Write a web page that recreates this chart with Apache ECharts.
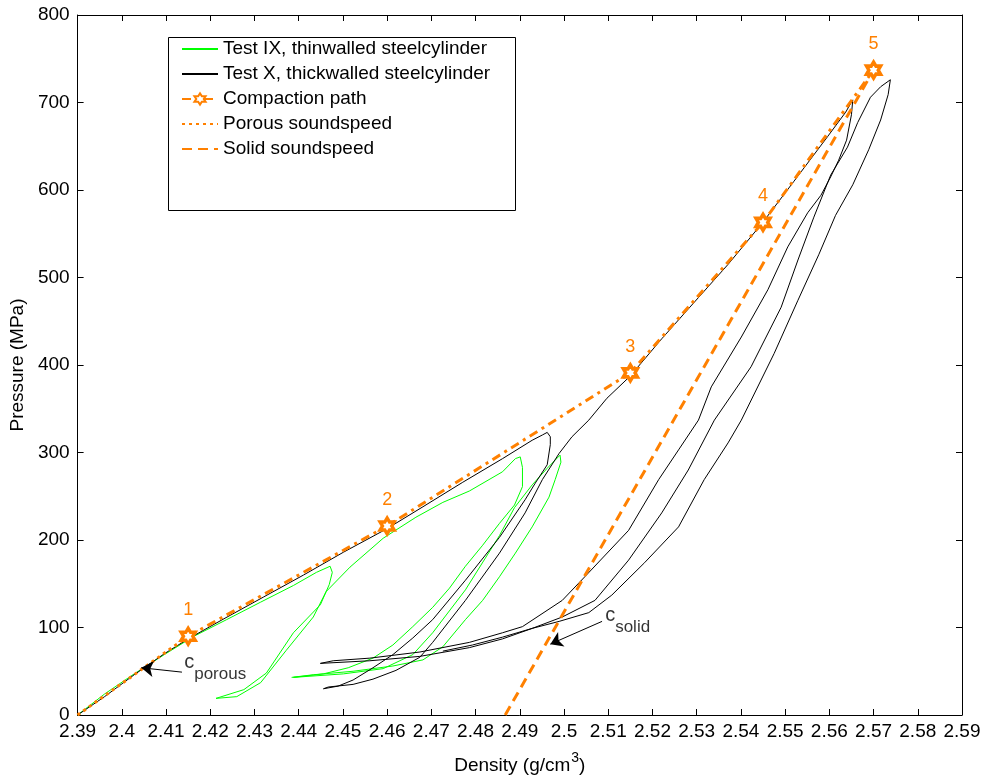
<!DOCTYPE html>
<html>
<head>
<meta charset="utf-8">
<script src="https://cdn.jsdelivr.net/npm/echarts@6/dist/echarts.min.js"></script>
<style>
  html, body { margin: 0; padding: 0; background: #fff; }
  #chart { width: 984px; height: 781px; }
</style>
</head>
<body>
<div id="chart"></div>
<script>
// Test IX (thin walled cylinder), three load/unload cycles
const testIXLoad1 = [[2.3900, 0], [2.3961, 24], [2.4028, 47], [2.4096, 69], [2.4163, 90], [2.4237, 109], [2.4314, 129], [2.4388, 148], [2.4440, 163], [2.4471, 170]]
const testIXUnload1 = [[2.4476, 163], [2.4469, 149], [2.4449, 126], [2.4388, 94], [2.4327, 48], [2.4276, 29], [2.4213, 19]]
const testIXLoad2 = [[2.4260, 21], [2.4314, 37], [2.4372, 74], [2.4433, 112], [2.4462, 141], [2.4516, 169], [2.4591, 202], [2.4665, 226], [2.4726, 243], [2.4786, 256], [2.4861, 278], [2.4890, 293], [2.4901, 295]]
const testIXUnload2 = [[2.4906, 283], [2.4906, 261], [2.4888, 240], [2.4854, 219], [2.4816, 194], [2.4777, 170], [2.4741, 145], [2.4703, 123], [2.4658, 101], [2.4613, 80], [2.4568, 65], [2.4512, 54], [2.4456, 47], [2.4388, 43]]
const testIXLoad3 = [[2.4501, 47], [2.4591, 53], [2.4658, 69], [2.4703, 94], [2.4777, 143], [2.4854, 205], [2.4888, 237], [2.4928, 263], [2.4962, 282], [2.4991, 297]]
const testIXUnload3 = [[2.4993, 289], [2.4980, 269], [2.4966, 249], [2.4928, 215], [2.4890, 185], [2.4854, 158], [2.4816, 131], [2.4777, 109], [2.4726, 78], [2.4681, 63], [2.4613, 56], [2.4523, 50], [2.4433, 46], [2.4384, 43]]

// Test X (thick walled cylinder)
const testXLoad1 = [[2.3900, 0], [2.3961, 21], [2.4028, 46], [2.4096, 70], [2.4150, 87], [2.4231, 110], [2.4321, 135], [2.4411, 160], [2.4501, 186], [2.4600, 213], [2.4681, 238], [2.4771, 266], [2.4861, 293], [2.4928, 314], [2.4951, 320], [2.4962, 323]]
const testXUnload1 = [[2.4969, 318], [2.4969, 309], [2.4962, 286], [2.4935, 265], [2.4912, 246], [2.4854, 203], [2.4777, 154], [2.4703, 109], [2.4658, 88], [2.4613, 69], [2.4568, 54], [2.4523, 40], [2.4489, 33], [2.4456, 30], [2.4467, 32]]
const testXLoad2 = [[2.4523, 35], [2.4568, 41], [2.4620, 51], [2.4674, 66], [2.4703, 83], [2.4777, 131], [2.4854, 185], [2.4912, 231], [2.4951, 269], [2.4989, 299], [2.5018, 318], [2.5056, 337], [2.5097, 362], [2.5149, 387], [2.5221, 430], [2.5295, 472], [2.5371, 515], [2.5448, 562], [2.5520, 610], [2.5596, 661], [2.5637, 689], [2.5653, 703]]
const testXUnload2 = [[2.5650, 686], [2.5639, 657], [2.5621, 634], [2.5603, 615], [2.5581, 594], [2.5551, 574], [2.5506, 535], [2.5461, 486], [2.5401, 432], [2.5333, 375], [2.5304, 337], [2.5259, 303], [2.5214, 269], [2.5146, 211], [2.5047, 158], [2.4996, 131], [2.4957, 118], [2.4906, 101], [2.4861, 94], [2.4786, 83], [2.4674, 72], [2.4561, 65], [2.4478, 62], [2.4449, 59]]
const testXLoad3 = [[2.4561, 62], [2.4674, 67], [2.4786, 77], [2.4861, 87], [2.4928, 99], [2.4996, 112], [2.5070, 131], [2.5146, 177], [2.5221, 231], [2.5281, 280], [2.5340, 337], [2.5423, 398], [2.5491, 466], [2.5529, 520], [2.5565, 569], [2.5603, 617], [2.5641, 649], [2.5664, 677], [2.5693, 706], [2.5716, 718], [2.5738, 726]]
const testXUnload3 = [[2.5733, 709], [2.5716, 680], [2.5689, 646], [2.5653, 606], [2.5614, 571], [2.5576, 526], [2.5529, 474], [2.5475, 413], [2.5401, 337], [2.5371, 311], [2.5317, 269], [2.5259, 215], [2.5182, 174], [2.5108, 137], [2.5056, 117], [2.4989, 107], [2.4928, 99], [2.4861, 89], [2.4793, 80], [2.4726, 73]]

// compaction path points 1..5
const compactionPoints = [[2.415, 90], [2.46, 216], [2.515, 391], [2.545, 563], [2.57, 737]]
const compactionLabels = ['1', '2', '3', '4', '5']
const porousLine = [[2.39, 0], [2.415, 90]]
const solidLine = [[2.4867, 0], [2.57, 737]]

// annotations: text anchor, arrow tail, arrow tip
const porousNote = { text: [2.4141, 54], tail: [2.4136, 49], tip: [2.4044, 54] }
const solidNote = { text: [2.5093, 108], tail: [2.5086, 107], tip: [2.4969, 81] }

const xTicks = { min: 2.39, max: 2.59, step: 0.01 }
const yTicks = { min: 0, max: 800, step: 100 }

const orange = '#ff8000'
const font = '"Liberation Sans", Arial, Helvetica, sans-serif'
const hexagram = 'path://M0,-10L2.89,-5L8.66,-5L5.77,0L8.66,5L2.89,5L0,10L-2.89,5L-8.66,5L-5.77,0L-8.66,-5L-2.89,-5Z'
const noFill = 'rgba(0,0,0,0)'

const chart = echarts.init(document.getElementById('chart'), null, { renderer: 'canvas' })

const tickStyle = { show: true, inside: true, length: 6, lineStyle: { color: '#000', width: 1 } }
const lineAxis = { show: true, onZero: false, lineStyle: { color: '#000', width: 1 } }

const baseX = {
  type: 'value',
  min: xTicks.min,
  max: xTicks.max,
  interval: xTicks.step,
  axisLine: lineAxis,
  axisTick: tickStyle,
  splitLine: { show: false }
}
const baseY = {
  type: 'value',
  min: yTicks.min,
  max: yTicks.max,
  interval: yTicks.step,
  axisLine: lineAxis,
  axisTick: tickStyle,
  splitLine: { show: false }
}

// plain line series, no marker in the legend either
const plainLine = (name, color, width, type, data, z) => ({
  name,
  type: 'line',
  showSymbol: false,
  symbol: 'none',
  lineStyle: { color, width, type },
  itemStyle: { color: noFill, borderColor: noFill },
  z,
  data
})

const option = {
  animation: false,
  backgroundColor: '#fff',
  textStyle: { fontFamily: font },
  grid: { left: 73, right: 22, top: 15, bottom: 66, containLabel: false },
  graphic: [
    {
      type: 'rect',
      z: 0,
      shape: { x: 168.5, y: 37.5, width: 347, height: 173 },
      style: { fill: '#fff', stroke: '#000', lineWidth: 1 }
    }
  ],
  legend: {
    data: ['Test IX, thinwalled steelcylinder', 'Test X, thickwalled steelcylinder', 'Compaction path', 'Porous soundspeed', 'Solid soundspeed'],
    orient: 'vertical',
    left: 176,
    top: 34,
    itemWidth: 36,
    itemHeight: 14,
    itemGap: 5,
    textStyle: { fontSize: 19, fontFamily: font, color: '#000', lineHeight: 20 }
  },
  xAxis: [
    {
      ...baseX,
      position: 'bottom',
      name: '{a|Density (g/cm}{sup|3}{a|)}',
      nameLocation: 'middle',
      nameGap: 36,
      nameTextStyle: {
        rich: {
          a: { fontSize: 19, fontFamily: font, color: '#000', lineHeight: 24, verticalAlign: 'bottom' },
          sup: { fontSize: 14, fontFamily: font, color: '#000', lineHeight: 24, verticalAlign: 'top', padding: [0, 0, 0, 1] }
        }
      },
      axisLabel: {
        margin: 7,
        fontSize: 19,
        fontFamily: font,
        color: '#000',
        formatter: v => String(parseFloat(v.toFixed(2)))
      }
    },
    { ...baseX, position: 'top', axisLabel: { show: false } }
  ],
  yAxis: [
    {
      ...baseY,
      position: 'left',
      name: 'Pressure (MPa)',
      nameLocation: 'middle',
      nameGap: 48,
      nameTextStyle: { fontSize: 19, fontFamily: font, color: '#000' },
      axisLabel: { margin: 8, fontSize: 19, fontFamily: font, color: '#000' }
    },
    { ...baseY, position: 'right', axisLabel: { show: false } }
  ],
  series: [
    plainLine('Test IX, thinwalled steelcylinder', '#00ff00', 1, 'solid',
      [].concat(testIXLoad1, testIXUnload1, testIXLoad2, testIXUnload2, testIXLoad3, testIXUnload3), 2),
    plainLine('Test X, thickwalled steelcylinder', '#000', 1, 'solid',
      [].concat(testXLoad1, testXUnload1, testXLoad2, testXUnload2, testXLoad3, testXUnload3), 2),
    {
      name: 'Compaction path',
      type: 'line',
      symbol: hexagram,
      symbolSize: [14, 16],
      lineStyle: { color: orange, width: 3, type: [9, 5, 3, 5] },
      itemStyle: { color: '#fff', borderColor: orange, borderWidth: 3.5 },
      label: {
        show: true,
        position: 'top',
        distance: 7,
        fontSize: 18,
        fontFamily: font,
        color: orange,
        formatter: p => compactionLabels[p.dataIndex]
      },
      z: 5,
      data: compactionPoints
    },
    plainLine('Porous soundspeed', orange, 3, [3, 4], porousLine, 4),
    plainLine('Solid soundspeed', orange, 3, [10, 6], solidLine, 4),
    {
      name: 'notes',
      type: 'scatter',
      symbolSize: 0,
      silent: true,
      label: {
        show: true,
        position: 'right',
        distance: 0,
        formatter: p => p.data.txt,
        rich: {
          c: { fontSize: 20, fontFamily: font, color: '#000', lineHeight: 30, verticalAlign: 'top' },
          s: { fontSize: 17, fontFamily: font, color: '#000', lineHeight: 20, verticalAlign: 'bottom' }
        }
      },
      data: [
        { value: porousNote.text, txt: '{c|c}{s|porous}' },
        { value: solidNote.text, txt: '{c|c}{s|solid}' }
      ],
      markLine: {
        silent: true,
        symbol: ['none', 'arrow'],
        symbolSize: 12,
        label: { show: false },
        lineStyle: { color: '#000', width: 1, type: 'solid' },
        itemStyle: { color: '#000' },
        data: [
          [{ coord: porousNote.tail }, { coord: porousNote.tip }],
          [{ coord: solidNote.tail }, { coord: solidNote.tip }]
        ]
      }
    }
  ]
}

chart.setOption(option)
</script>
</body>
</html>
